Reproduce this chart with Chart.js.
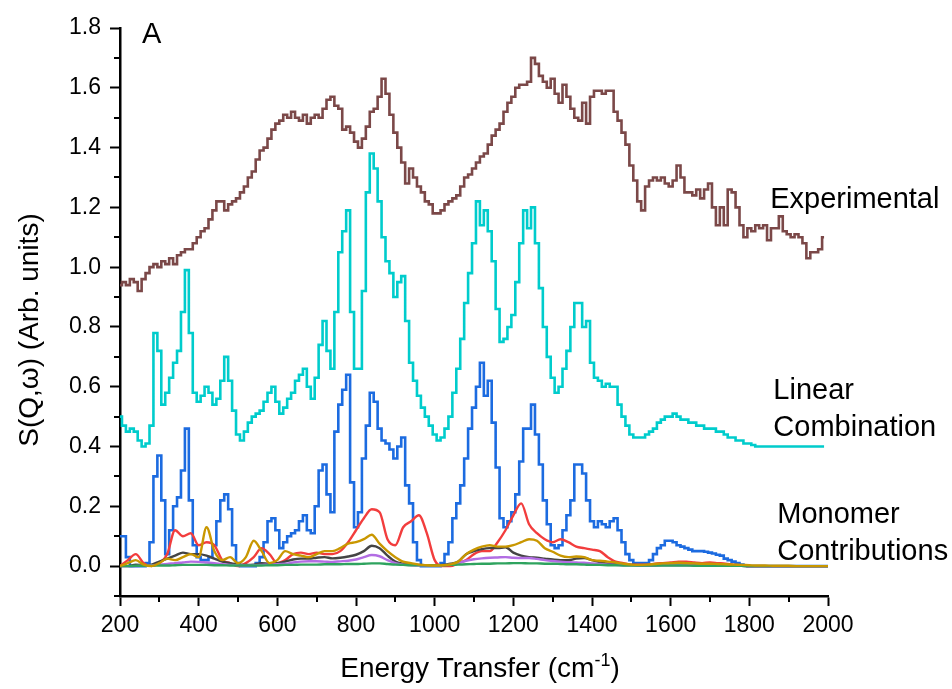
<!DOCTYPE html>
<html lang="en">
<head>
  <meta charset="UTF-8">
  <title>S(Q,ω) spectra</title>
  <script src="https://cdn.jsdelivr.net/npm/chart.js"></script>
  <style>
    body { margin: 0; background: #fff; }
    canvas { display: block; }
  </style>
</head>
<body>
  <canvas id="spectra" width="952" height="689"></canvas>
  <script>
    // energy grids (cm-1): fine bins for the three main traces, coarse for the small monomers
    const fineStart = 200, fineStep = 10, coarseStart = 200, coarseStep = 20;

    const experimental = [
      0.94, 0.95, 0.94, 0.96, 0.95, 0.92, 0.96, 0.98, 1.00, 1.01,
      1.00, 1.02, 1.01, 1.03, 1.01, 1.04, 1.05, 1.06, 1.06, 1.08,
      1.10, 1.12, 1.13, 1.16, 1.19, 1.22, 1.22, 1.19, 1.21, 1.22,
      1.23, 1.25, 1.27, 1.30, 1.32, 1.36, 1.39, 1.40, 1.43, 1.46,
      1.48, 1.49, 1.51, 1.50, 1.52, 1.50, 1.49, 1.51, 1.48, 1.50,
      1.51, 1.50, 1.53, 1.56, 1.57, 1.54, 1.53, 1.46, 1.47, 1.45,
      1.42, 1.40, 1.43, 1.47, 1.52, 1.53, 1.57, 1.63, 1.58, 1.51,
      1.45, 1.40, 1.35, 1.28, 1.33, 1.30, 1.27, 1.25, 1.22, 1.21,
      1.18, 1.18, 1.19, 1.21, 1.22, 1.23, 1.24, 1.27, 1.30, 1.31,
      1.33, 1.35, 1.37, 1.38, 1.41, 1.44, 1.46, 1.48, 1.52, 1.55,
      1.57, 1.60, 1.61, 1.61, 1.62, 1.70, 1.68, 1.64, 1.62, 1.60,
      1.63, 1.58, 1.55, 1.61, 1.57, 1.53, 1.50, 1.49, 1.55, 1.48,
      1.57, 1.59, 1.59, 1.58, 1.59, 1.59, 1.52, 1.49, 1.45, 1.41,
      1.34, 1.29, 1.22, 1.19, 1.27, 1.29, 1.30, 1.29, 1.30, 1.28,
      1.27, 1.29, 1.34, 1.30, 1.25, 1.25, 1.24, 1.26, 1.23, 1.26,
      1.28, 1.20, 1.14, 1.20, 1.14, 1.26, 1.25, 1.20, 1.14, 1.10,
      1.13, 1.12, 1.14, 1.13, 1.14, 1.09, 1.13, 1.13, 1.17, 1.12,
      1.11, 1.10, 1.11, 1.10, 1.08, 1.03, 1.05, 1.05, 1.06, 1.10,
      null
    ];

    const linearCombination = [
      0.50, 0.47, 0.45, 0.46, 0.45, 0.42, 0.40, 0.41, 0.47, 0.78,
      0.72, 0.54, 0.58, 0.63, 0.68, 0.72, 0.85, 0.99, 0.78, 0.58,
      0.55, 0.57, 0.60, 0.58, 0.54, 0.56, 0.62, 0.70, 0.62, 0.52,
      0.44, 0.42, 0.45, 0.48, 0.50, 0.51, 0.52, 0.55, 0.58, 0.60,
      0.55, 0.51, 0.53, 0.56, 0.58, 0.62, 0.64, 0.66, 0.60, 0.56,
      0.63, 0.74, 0.82, 0.72, 0.66, 0.85, 1.05, 1.12, 1.19, 0.85,
      0.66, 0.66, 0.92, 1.25, 1.38, 1.33, 1.22, 1.10, 1.02, 0.98,
      0.90, 0.95, 0.97, 0.82, 0.68, 0.62, 0.57, 0.53, 0.50, 0.47,
      0.44, 0.42, 0.43, 0.46, 0.50, 0.58, 0.66, 0.76, 0.88, 0.98,
      1.08, 1.22, 1.14, 1.19, 1.12, 1.02, 0.86, 0.75, 0.76, 0.80,
      0.84, 0.95, 1.08, 1.19, 1.13, 1.20, 1.08, 0.93, 0.80, 0.70,
      0.63, 0.58, 0.60, 0.66, 0.72, 0.80, 0.88, 0.88, 0.80, 0.82,
      0.68, 0.63, 0.62, 0.60, 0.61, 0.60, 0.60, 0.54, 0.50, 0.47,
      0.44, 0.43, 0.43, 0.43, 0.44, 0.45, 0.46, 0.48, 0.49, 0.50,
      0.50, 0.51, 0.50, 0.49, 0.49, 0.48, 0.48, 0.47, 0.47, 0.46,
      0.46, 0.46, 0.45, 0.45, 0.44, 0.43, 0.43, 0.42, 0.42, 0.41,
      0.41, 0.405, 0.40, 0.40, 0.40, 0.40, 0.40, 0.40, 0.40, 0.40,
      0.40, 0.40, 0.40, 0.40, 0.40, 0.40, 0.40, 0.40, 0.40, 0.40,
      null
    ];

    const monomerBlue = [
      0.10, 0.10, 0.03, 0.00, 0.00, 0.00, 0.00, 0.01, 0.08, 0.30,
      0.37, 0.22, 0.04, 0.12, 0.20, 0.23, 0.32, 0.46, 0.22, 0.07,
      0.03, 0.02, 0.02, 0.03, 0.07, 0.15, 0.22, 0.24, 0.19, 0.07,
      0.01, 0.00, 0.00, 0.00, 0.00, 0.01, 0.03, 0.08, 0.15, 0.16,
      0.12, 0.06, 0.08, 0.10, 0.11, 0.12, 0.15, 0.17, 0.12, 0.11,
      0.20, 0.32, 0.34, 0.24, 0.18, 0.45, 0.54, 0.59, 0.64, 0.28,
      0.13, 0.18, 0.36, 0.47, 0.58, 0.55, 0.46, 0.42, 0.41, 0.39,
      0.36, 0.40, 0.43, 0.27, 0.21, 0.08, 0.02, 0.00, 0.00, 0.00,
      0.00, 0.00, 0.01, 0.04, 0.08, 0.16, 0.21, 0.27, 0.36, 0.46,
      0.53, 0.60, 0.68, 0.57, 0.62, 0.48, 0.33, 0.16, 0.13, 0.15,
      0.18, 0.24, 0.35, 0.46, 0.46, 0.54, 0.44, 0.34, 0.22, 0.14,
      0.07, 0.06, 0.07, 0.12, 0.17, 0.22, 0.34, 0.34, 0.31, 0.22,
      0.15, 0.13, 0.15, 0.14, 0.13, 0.15, 0.16, 0.12, 0.08, 0.04,
      0.02, 0.01, 0.01, 0.01, 0.01, 0.02, 0.04, 0.06, 0.07, 0.085,
      0.085, 0.08, 0.07, 0.065, 0.06, 0.055, 0.05, 0.05, 0.05, 0.048,
      0.045, 0.042, 0.038, 0.035, 0.025, 0.02, 0.015, 0.01, 0.005, 0.002,
      0, 0, 0, 0, 0, 0, 0, 0, 0, 0,
      0, 0, 0, 0, 0, 0, 0, 0, 0, 0,
      0
    ];

    const monomerRed = [
      0.00, 0.02, 0.04, 0.01, 0.00, 0.01, 0.04, 0.12, 0.10, 0.11,
      0.07, 0.08, 0.07, 0.02, 0.01, 0.00, 0.01, 0.03, 0.06, 0.04,
      0.01, 0.02, 0.04, 0.045, 0.04, 0.045, 0.04, 0.04, 0.05, 0.08,
      0.12, 0.16, 0.19, 0.18, 0.09, 0.07, 0.13, 0.15, 0.17, 0.11,
      0.02, 0.00, 0.00, 0.01, 0.02, 0.04, 0.05, 0.05, 0.08, 0.12,
      0.17, 0.21, 0.14, 0.11, 0.09, 0.08, 0.09, 0.08, 0.065, 0.06,
      0.055, 0.05, 0.03, 0.015, 0.01, 0.005, 0.005, 0.005, 0.008, 0.01,
      0.012, 0.015, 0.015, 0.012, 0.01, 0.012, 0.01, 0.008, 0.005, 0.003,
      0, 0, 0, 0, 0, 0, 0, 0, 0, 0, 0
    ];

    const monomerGold = [
      0.00, 0.01, 0.02, 0.005, 0.00, 0.01, 0.025, 0.02, 0.03, 0.04,
      0.03, 0.13, 0.05, 0.02, 0.03, 0.01, 0.03, 0.085, 0.05, 0.01,
      0.02, 0.05, 0.04, 0.035, 0.03, 0.04, 0.05, 0.05, 0.06, 0.075,
      0.08, 0.09, 0.105, 0.075, 0.05, 0.03, 0.015, 0.01, 0.005, 0.003,
      0.002, 0.003, 0.006, 0.015, 0.04, 0.055, 0.065, 0.07, 0.065, 0.065,
      0.07, 0.08, 0.09, 0.085, 0.06, 0.048, 0.035, 0.03, 0.032, 0.03,
      0.02, 0.018, 0.015, 0.012, 0.008, 0.005, 0.004, 0.005, 0.007, 0.009,
      0.01, 0.011, 0.01, 0.009, 0.008, 0.008, 0.007, 0.006, 0.005, 0.004,
      0.003, 0.002, 0.002, 0.001, 0.001, 0.001, 0, 0, 0, 0, 0
    ];

    const monomerBlack = [
      0, 0, 0.005, 0.003, 0.005, 0.015, 0.025, 0.035, 0.045, 0.04,
      0.04, 0.035, 0.025, 0.015, 0.01, 0.005, 0.004, 0.005, 0.01, 0.008,
      0.01, 0.015, 0.022, 0.025, 0.025, 0.028, 0.03, 0.026, 0.028, 0.032,
      0.038, 0.05, 0.068, 0.06, 0.035, 0.015, 0.008, 0.005, 0.004, 0.003,
      0.003, 0.004, 0.008, 0.015, 0.04, 0.05, 0.057, 0.06, 0.06, 0.063,
      0.045, 0.035, 0.03, 0.028, 0.025, 0.022, 0.02, 0.02, 0.025, 0.027,
      0.02, 0.013, 0.008, 0.006, 0.005, 0.004, 0.003, 0.003, 0.003, 0.004,
      0.004, 0.004, 0.004, 0.003, 0.003, 0.003, 0.002, 0.002, 0.001, 0.001,
      0, 0, 0, 0, 0, 0, 0, 0, 0, 0, 0
    ];

    const monomerPurple = [
      0, 0, 0, 0.002, 0.003, 0.005, 0.007, 0.01, 0.012, 0.015,
      0.014, 0.012, 0.01, 0.006, 0.004, 0.003, 0.002, 0.003, 0.004, 0.005,
      0.006, 0.008, 0.012, 0.015, 0.016, 0.016, 0.015, 0.014, 0.016, 0.018,
      0.022, 0.03, 0.037, 0.033, 0.02, 0.01, 0.005, 0.003, 0.002, 0.002,
      0.002, 0.003, 0.005, 0.01, 0.018, 0.023, 0.026, 0.028, 0.029, 0.03,
      0.028, 0.027, 0.027, 0.024, 0.02, 0.017, 0.015, 0.013, 0.012, 0.011,
      0.009, 0.007, 0.005, 0.004, 0.003, 0.003, 0.002, 0.002, 0.002, 0.003,
      0.003, 0.003, 0.003, 0.002, 0.002, 0.002, 0.002, 0.001, 0.001, 0.001,
      0, 0, 0, 0, 0, 0, 0, 0, 0, 0, 0
    ];

    const monomerGreen = [
      0, 0, 0.001, 0.001, 0.001, 0.002, 0.002, 0.003, 0.004, 0.004,
      0.004, 0.004, 0.003, 0.003, 0.002, 0.002, 0.002, 0.002, 0.002, 0.003,
      0.003, 0.004, 0.004, 0.005, 0.005, 0.005, 0.006, 0.006, 0.006, 0.007,
      0.007, 0.008, 0.009, 0.009, 0.007, 0.005, 0.004, 0.003, 0.003, 0.003,
      0.003, 0.003, 0.004, 0.005, 0.006, 0.007, 0.008, 0.008, 0.009, 0.009,
      0.01, 0.01, 0.009, 0.009, 0.008, 0.008, 0.007, 0.006, 0.006, 0.005,
      0.004, 0.004, 0.003, 0.003, 0.002, 0.002, 0.002, 0.002, 0.002, 0.002,
      0.002, 0.002, 0.002, 0.001, 0.001, 0.001, 0.001, 0.001, 0.001, 0.001,
      0, 0, 0, 0, 0, 0, 0, 0, 0, 0, 0
    ];

    const curveLabels = [
      { lines: ['A'], e: 256, v: 1.749 },
      { lines: ['Experimental'], e: 1853, v: 1.197 },
      { lines: ['Linear', 'Combination'], e: 1861, v: 0.558 },
      { lines: ['Monomer', 'Contributions'], e: 1871, v: 0.144 }
    ];

    const FONT = '"Liberation Sans", Arial, sans-serif';

    const energyFine = experimental.map((_, i) => fineStart + fineStep * i);
    const energyCoarse = monomerRed.map((_, i) => coarseStart + coarseStep * i);
    const toPoints = (energy, values) => energy.map((x, i) => ({ x: x, y: values[i] }));

    function fineLine(label, values, color) {
      return {
        label: label,
        data: toPoints(energyFine, values),
        borderColor: color,
        borderWidth: 2.6,
        pointRadius: 0,
        stepped: 'middle',
        fill: false
      };
    }

    function smallLine(label, values, color) {
      return {
        label: label,
        data: toPoints(energyCoarse, values),
        borderColor: color,
        borderWidth: 2.4,
        pointRadius: 0,
        cubicInterpolationMode: 'monotone',
        tension: 0.4,
        fill: false
      };
    }

    const isMajorX = v => Math.round(v) % 200 === 0;
    const isMajorY = v => Math.round(v * 10) % 2 === 0;

    // minor ticks, axis titles and curve labels
    const decorations = {
      id: 'decorations',
      afterDraw(chart) {
        const { ctx, scales: { x, y } } = chart;
        ctx.save();
        ctx.strokeStyle = '#000';
        ctx.lineWidth = 2;
        ctx.beginPath();
        x.ticks.forEach(t => {
          if (isMajorX(t.value)) return;
          const px = Math.round(x.getPixelForValue(t.value));
          ctx.moveTo(px, y.bottom);
          ctx.lineTo(px, y.bottom + 6);
        });
        y.ticks.forEach(t => {
          if (isMajorY(t.value)) return;
          const py = Math.round(y.getPixelForValue(t.value));
          ctx.moveTo(x.left, py);
          ctx.lineTo(x.left - 6, py);
        });
        ctx.stroke();

        ctx.fillStyle = '#000';
        ctx.textAlign = 'left';
        ctx.textBaseline = 'alphabetic';
        ctx.font = '29px ' + FONT;
        curveLabels.forEach(n => {
          const px = x.getPixelForValue(n.e);
          const py = y.getPixelForValue(n.v);
          n.lines.forEach((line, i) => ctx.fillText(line, px, py + i * 37));
        });

        // x title with superscript
        const main = 'Energy Transfer (cm', sup = '-1', close = ')';
        ctx.font = '28px ' + FONT;
        const wMain = ctx.measureText(main).width;
        const wClose = ctx.measureText(close).width;
        ctx.font = '18px ' + FONT;
        const wSup = ctx.measureText(sup).width;
        const cx = (x.left + x.right) / 2 + 6;
        let tx = cx - (wMain + wSup + wClose) / 2;
        const base = 677;
        ctx.font = '28px ' + FONT;
        ctx.fillText(main, tx, base);
        tx += wMain;
        ctx.font = '18px ' + FONT;
        ctx.fillText(sup, tx, base - 11);
        tx += wSup;
        ctx.font = '28px ' + FONT;
        ctx.fillText(close, tx, base);

        // y title
        ctx.translate(38, 330);
        ctx.rotate(-Math.PI / 2);
        ctx.textAlign = 'center';
        ctx.fillText('S(Q,\u03c9) (Arb. units)', 0, 0);
        ctx.restore();
      }
    };

    new Chart(document.getElementById('spectra'), {
      type: 'line',
      data: {
        datasets: [
          smallLine('Monomer 6', monomerGold, '#c99700'),
          smallLine('Monomer 5', monomerGreen, '#2ea35e'),
          smallLine('Monomer 4', monomerPurple, '#b26de3'),
          smallLine('Monomer 3', monomerBlack, '#444444'),
          smallLine('Monomer 2', monomerRed, '#f23d3d'),
          fineLine('Monomer 1', monomerBlue, '#1c6be0'),
          fineLine('Linear Combination', linearCombination, '#00cccc'),
          fineLine('Experimental', experimental, '#7b4848')
        ]
      },
      options: {
        responsive: false,
        animation: false,
        devicePixelRatio: 1,
        layout: { padding: { top: 28, right: 124, left: 0, bottom: 0 } },
        plugins: { legend: { display: false }, tooltip: { enabled: false } },
        scales: {
          x: {
            type: 'linear',
            min: 200,
            max: 2000,
            ticks: {
              stepSize: 100,
              autoSkip: false,
              maxRotation: 0,
              padding: 6,
              color: '#000',
              font: { size: 23, family: FONT },
              callback: v => isMajorX(v) ? String(v) : ''
            },
            grid: {
              drawOnChartArea: false,
              drawTicks: true,
              tickLength: 10,
              tickWidth: 2,
              tickColor: c => (c.tick && isMajorX(c.tick.value)) ? '#000' : 'rgba(0,0,0,0)'
            },
            border: { display: true, color: '#000', width: 2.5 },
            afterFit: s => { s.height = 93; }
          },
          y: {
            min: -0.1,
            max: 1.8,
            ticks: {
              stepSize: 0.1,
              autoSkip: false,
              padding: 9,
              color: '#000',
              font: { size: 23, family: FONT },
              callback: v => isMajorY(v) ? v.toFixed(1) : ''
            },
            grid: {
              drawOnChartArea: false,
              drawTicks: true,
              tickLength: 10,
              tickWidth: 2,
              tickColor: c => (c.tick && isMajorY(c.tick.value)) ? '#000' : 'rgba(0,0,0,0)'
            },
            border: { display: true, color: '#000', width: 2.5 },
            afterFit: s => { s.width = 120; }
          }
        }
      },
      plugins: [decorations]
    });
  </script>
</body>
</html>
